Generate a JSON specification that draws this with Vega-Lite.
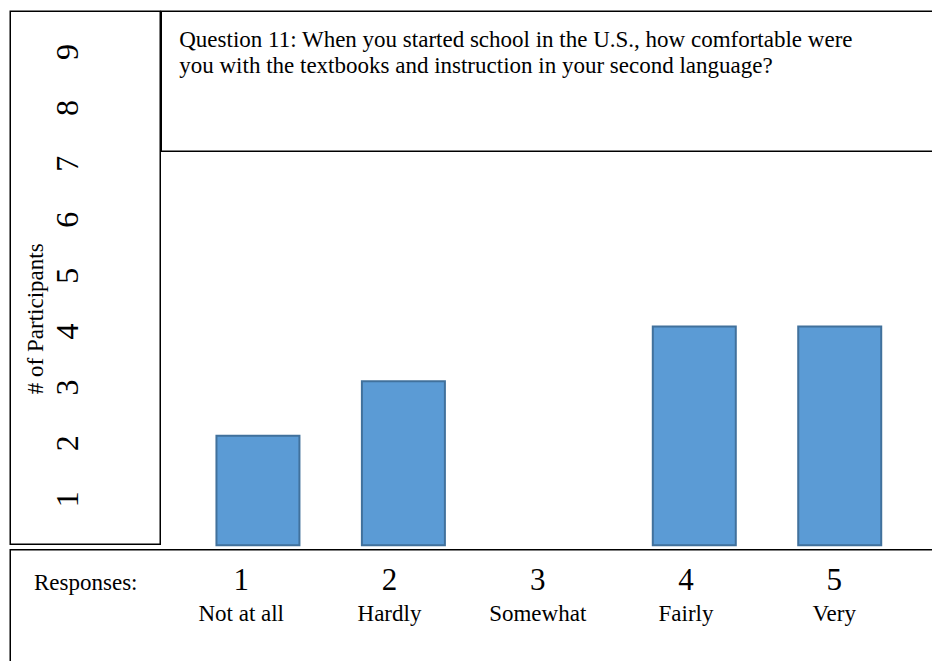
{
  "$schema": "https://vega.github.io/schema/vega-lite/v6.json",
  "background": "white",
  "padding": {"left": 9.25, "top": 10.25, "right": -2, "bottom": -2},
  "config": {
    "view": {"stroke": "black", "strokeWidth": 1.5},
    "font": "Liberation Serif",
    "text": {"font": "Liberation Serif", "color": "black"}
  },
  "datasets": {
    "responses": [
      {"response": 1, "label": "Not at all", "count": 2},
      {"response": 2, "label": "Hardly", "count": 3},
      {"response": 3, "label": "Somewhat", "count": 0},
      {"response": 4, "label": "Fairly", "count": 4},
      {"response": 5, "label": "Very", "count": 4}
    ],
    "levels": [
      {"n": 1}, {"n": 2}, {"n": 3}, {"n": 4}, {"n": 5},
      {"n": 6}, {"n": 7}, {"n": 8}, {"n": 9}
    ],
    "question": [
      {"text": "Question 11:  When you started school in the U.S., how comfortable were\nyou with the textbooks and instruction in your second language?"}
    ]
  },
  "spacing": 1.5,
  "vconcat": [
    {
      "spacing": -1.5,
      "hconcat": [
        {
          "width": 150,
          "height": 533,
          "view": {"stroke": "black", "strokeWidth": 1.5},
          "data": {"name": "levels"},
          "mark": {"type": "text", "angle": 270, "fontSize": 32, "align": "center", "baseline": "middle", "dy": -17},
          "encoding": {
            "y": {
              "field": "n",
              "type": "quantitative",
              "scale": {"domain": [0.195, 9.73], "nice": false, "zero": false},
              "axis": {
                "title": "# of Participants",
                "labels": false,
                "ticks": false,
                "domain": false,
                "grid": false,
                "minExtent": 0,
                "titleX": 25,
                "titleY": 307,
                "titleAngle": 270,
                "titleAlign": "center",
                "titleBaseline": "middle",
                "titleFont": "Liberation Serif",
                "titleFontSize": 23,
                "titleFontWeight": "normal",
                "titleColor": "black"
              }
            },
            "text": {"field": "n", "type": "quantitative"}
          }
        },
        {
          "spacing": -1.5,
          "vconcat": [
            {
              "width": 773,
              "height": 140,
              "view": {"stroke": "black", "strokeWidth": 1.5},
              "data": {"name": "question"},
              "mark": {"type": "text", "align": "left", "baseline": "alphabetic", "fontSize": 23, "lineHeight": 26, "lineBreak": "\n", "dx": -368.5, "dy": -34},
              "encoding": {"text": {"field": "text", "type": "nominal"}}
            },
            {
              "width": 773,
              "height": 393,
              "view": {"stroke": "transparent"},
              "data": {"name": "responses"},
              "transform": [{"filter": "datum.count > 0"}],
              "mark": {"type": "bar", "width": 83, "color": "#5B9BD5", "stroke": "#41719C", "strokeWidth": 2},
              "encoding": {
                "x": {"field": "response", "type": "quantitative", "scale": {"domain": [0.3695, 5.6155], "nice": false, "zero": false}, "axis": null},
                "y": {"field": "count", "type": "quantitative", "scale": {"domain": [0, 7.185], "nice": false}, "axis": null}
              }
            }
          ]
        }
      ]
    },
    {
      "width": 923,
      "height": 115,
      "data": {"name": "responses"},
      "layer": [
        {
          "mark": {"type": "text", "fontSize": 31, "baseline": "alphabetic", "dy": -17.5},
          "encoding": {
            "x": {
              "field": "response",
              "type": "quantitative",
              "scale": {"domain": [-0.558, 5.668], "nice": false, "zero": false},
              "axis": {
                "orient": "top",
                "title": "Responses:",
                "labels": false,
                "ticks": false,
                "domain": false,
                "grid": false,
                "minExtent": 0,
                "titleX": 75,
                "titleY": 40,
                "titleAngle": 0,
                "titleAlign": "center",
                "titleBaseline": "alphabetic",
                "titleFont": "Liberation Serif",
                "titleFontSize": 23,
                "titleFontWeight": "normal",
                "titleColor": "black"
              }
            },
            "text": {"field": "response", "type": "quantitative"}
          }
        },
        {
          "mark": {"type": "text", "fontSize": 23, "baseline": "alphabetic", "dy": 13.5},
          "encoding": {
            "x": {"field": "response", "type": "quantitative"},
            "text": {"field": "label", "type": "nominal"}
          }
        }
      ]
    }
  ]
}
